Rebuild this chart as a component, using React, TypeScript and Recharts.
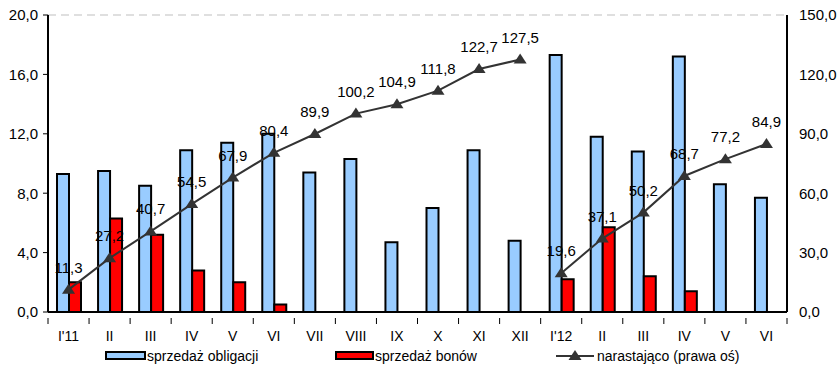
import React from 'react';
import {
  ComposedChart,
  Bar,
  Line,
  XAxis,
  YAxis,
  CartesianGrid,
  LabelList,
} from 'recharts';

const months = ["I'11", 'II', 'III', 'IV', 'V', 'VI', 'VII', 'VIII', 'IX', 'X', 'XI', 'XII', "I'12", 'II', 'III', 'IV', 'V', 'VI'];
const bonds = [9.3, 9.5, 8.5, 10.9, 11.4, 12.0, 9.4, 10.3, 4.7, 7.0, 10.9, 4.8, 17.3, 11.8, 10.8, 17.2, 8.6, 7.7];
const bills = [2.0, 6.3, 5.2, 2.8, 2.0, 0.5, 0, 0, 0, 0, 0, 0, 2.2, 5.7, 2.4, 1.4, 0, 0];
const cumulative2011 = [11.3, 27.2, 40.7, 54.5, 67.9, 80.4, 89.9, 100.2, 104.9, 111.8, 122.7, 127.5, null, null, null, null, null, null];
const cumulative2012 = [null, null, null, null, null, null, null, null, null, null, null, null, 19.6, 37.1, 50.2, 68.7, 77.2, 84.9];
const leftTicks = [0, 4, 8, 12, 16, 20];
const rightTicks = [0, 30, 60, 90, 120, 150];

const BLUE = '#99CCFF';
const RED = '#FF0000';
const LINE = '#333333';
const FONT = '"Liberation Sans", Arial, sans-serif';

const data = months.map((m, i) => ({
  month: m,
  bonds: bonds[i],
  bills: bills[i] || null,
  c11: cumulative2011[i],
  c12: cumulative2012[i],
}));

const fmt = (v: number) => v.toFixed(1).replace('.', ',');

const Triangle = (props: any) => {
  const { cx, cy, value, index } = props;
  if (value == null || cx == null || cy == null) return <g key={`t-${index}`} />;
  return (
    <path
      key={`t-${index}`}
      d={`M${cx},${cy - 6} L${cx + 6.5},${cy + 4} L${cx - 6.5},${cy + 4} Z`}
      fill={LINE}
    />
  );
};

const PointLabel = (props: any) => {
  const { x, y, value } = props;
  if (value == null) return null;
  return (
    <text x={x} y={y - 17} textAnchor="middle" fontSize={15} fontFamily={FONT} fill="#000">
      {fmt(value)}
    </text>
  );
};

const BAND = 739 / 18;

const MonthTick = (props: any) => {
  const { x, y, payload, index } = props;
  const last = index === months.length - 1;
  return (
    <g>
      <line x1={x - BAND / 2} y1={y - 2} x2={x - BAND / 2} y2={y + 4} stroke="#000" />
      {last && <line x1={x + BAND / 2} y1={y - 2} x2={x + BAND / 2} y2={y + 4} stroke="#000" />}
      <text x={x} y={y + 21} textAnchor="middle" fontSize={14} fontFamily={FONT} fill="#000">
        {payload.value}
      </text>
    </g>
  );
};

const legendText: React.CSSProperties = {
  position: 'absolute',
  top: 348,
  fontSize: 14,
  fontFamily: FONT,
  color: '#000',
  whiteSpace: 'nowrap',
};

export default function App() {
  return (
    <div style={{ position: 'absolute', left: 0, top: 0, width: 839, height: 367, background: '#fff' }}>
      <ComposedChart
        width={839}
        height={367}
        data={data}
        margin={{ top: 15, right: 0, left: 0, bottom: 33 }}
        barGap={0}
        barSize={12}
      >
        <CartesianGrid vertical={false} stroke="#BFBFBF" strokeDasharray="8 5" />
        <XAxis
          dataKey="month"
          xAxisId="main"
          height={22}
          axisLine={{ stroke: '#000', strokeWidth: 2 }}
          tickLine={false}
          tick={<MonthTick />}
          interval={0}
        />
        <XAxis xAxisId="top" orientation="top" dataKey="month" height={0} tick={false} tickLine={false} axisLine={{ stroke: '#000', strokeWidth: 2 }} />
        <YAxis
          yAxisId="left"
          width={48}
          domain={[0, 20]}
          ticks={leftTicks}
          tickFormatter={fmt}
          tickSize={5}
          tickMargin={5}
          axisLine={{ stroke: '#000', strokeWidth: 2 }}
          tickLine={{ stroke: '#000' }}
          tick={{ fontSize: 15, fontFamily: FONT, fill: '#000' }}
        />
        <YAxis
          yAxisId="right"
          orientation="right"
          width={52}
          domain={[0, 150]}
          ticks={rightTicks}
          tickFormatter={fmt}
          tickSize={5}
          tickMargin={7}
          axisLine={{ stroke: '#000', strokeWidth: 2 }}
          tickLine={false}
          tick={{ fontSize: 15, fontFamily: FONT, fill: '#000', textAnchor: 'start' }}
        />
        <Bar xAxisId="main" yAxisId="left" dataKey="bonds" fill={BLUE} stroke="#000" strokeWidth={2} isAnimationActive={false} />
        <Bar xAxisId="main" yAxisId="left" dataKey="bills" fill={RED} stroke="#000" strokeWidth={2} isAnimationActive={false} />
        <Line
          xAxisId="main"
          yAxisId="right"
          dataKey="c11"
          stroke={LINE}
          strokeWidth={2}
          dot={<Triangle />}
          activeDot={false}
          isAnimationActive={false}
        >
          <LabelList dataKey="c11" content={<PointLabel />} />
        </Line>
        <Line
          xAxisId="main"
          yAxisId="right"
          dataKey="c12"
          stroke={LINE}
          strokeWidth={2}
          dot={<Triangle />}
          activeDot={false}
          isAnimationActive={false}
        >
          <LabelList dataKey="c12" content={<PointLabel />} />
        </Line>
      </ComposedChart>

      {/* Legend */}
      <div style={{ position: 'absolute', left: 105, top: 351, width: 37, height: 5, background: BLUE, border: '2px solid #000' }} />
      <div style={{ ...legendText, left: 147 }}>sprzedaż obligacji</div>
      <div style={{ position: 'absolute', left: 335, top: 351, width: 35, height: 5, background: RED, border: '2px solid #000' }} />
      <div style={{ ...legendText, left: 375 }}>sprzedaż bonów</div>
      <svg style={{ position: 'absolute', left: 554, top: 349 }} width={42} height={14}>
        <line x1={2} y1={7} x2={40} y2={7} stroke={LINE} strokeWidth={2} />
        <path d="M21,1 L27.5,11 L14.5,11 Z" fill={LINE} />
      </svg>
      <div style={{ ...legendText, left: 597 }}>narastająco (prawa oś)</div>
    </div>
  );
}
